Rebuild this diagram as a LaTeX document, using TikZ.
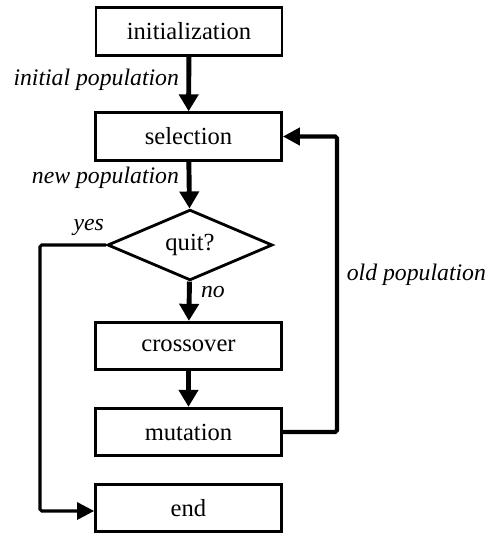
\documentclass[tikz,border=0pt]{standalone}
\usepackage{fontspec}
\setmainfont{Liberation Serif}
\usetikzlibrary{shapes.geometric,arrows.meta}

\begin{document}
\begin{tikzpicture}[x=.02cm,y=-.02cm,
  box/.style={draw,line width=1.6pt,minimum width=3.72cm,minimum height=.95cm,inner sep=0pt,font=\fontsize{14}{16}\selectfont},
  decision/.style={draw,diamond,line width=1.6pt,minimum width=3.3cm,minimum height=1.4cm,inner sep=0pt,font=\fontsize{14}{16}\selectfont},
  flow/.style={line width=2.8pt,-{Triangle[length=.34cm,width=.38cm]}},
  side/.style={line width=1.8pt,-{Triangle[length=.34cm,width=.34cm]}},
  lbl/.style={font=\itshape\fontsize{13.5}{16}\selectfont,inner sep=1pt}]
\path[use as bounding box] (0,0) rectangle (490,533);
% the steps
\node[box] (init) at (189,31.5) {initialization};
\node[box] (sel) at (188.5,136.5) {selection};
\node[decision] (quit) at (190,245) {quit?};
\node[box] (cross) at (188.5,346) {crossover};
\node[box] (mut) at (188.5,432) {mutation};
\node[box] (end) at (188.5,508) {end};
% corners of the side lines
\coordinate (yestop) at (40,245);
\coordinate (yesbot) at (40,511);
\coordinate (oldbot) at (337,432);
\coordinate (oldtop) at (337,136.5);
% main flow
\draw[flow] (init) -- (sel);
\draw[flow] (sel) -- (quit);
\draw[flow] (quit) -- (cross);
\draw[flow] (cross) -- (mut);
\draw[side,rounded corners=1pt] (quit.west) -- (yestop) -- (yesbot) -- (end.west|-yesbot);
\draw[side,line width=2.4pt,rounded corners=1pt] (mut) -- (oldbot) -- (oldtop) -- (sel);
% labels
\node[lbl,anchor=east] (lblinit) at (181,80) {initial population};
\node[lbl,anchor=east] (lblnew) at (181,178) {new population};
\node[lbl,anchor=south east] (lblyes) at (106,238) {yes};
\node[lbl,anchor=west] (lblno) at (199,292) {no};
\node[lbl,anchor=east] (lblold) at (488,275) {old population};
\end{tikzpicture}
\end{document}
